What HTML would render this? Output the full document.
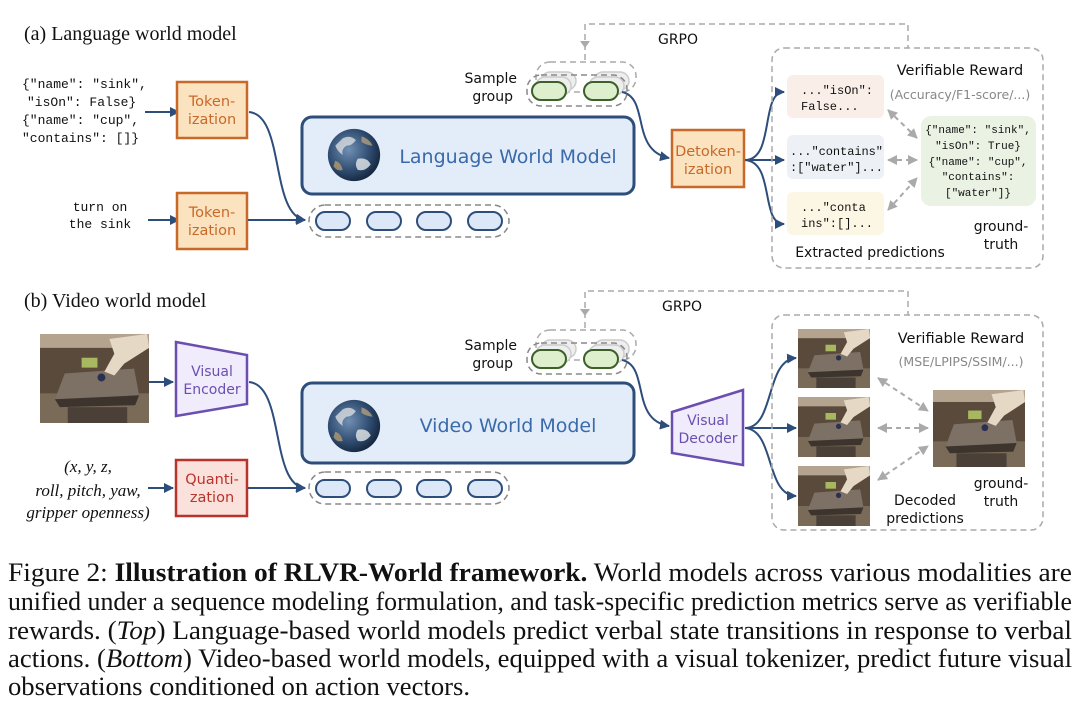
<!DOCTYPE html>
<html><head><meta charset="utf-8"><style>
html,body{margin:0;padding:0;background:#fff}
svg{display:block}
.mono{font-family:"Liberation Mono","DejaVu Sans Mono",monospace}
.sans{font-family:"DejaVu Sans","Liberation Sans",sans-serif}
.serif{font-family:"Liberation Serif",serif}
</style></head><body>
<svg width="1080" height="708" viewBox="0 0 1080 708" xmlns="http://www.w3.org/2000/svg">
<defs>
<marker id="ah" viewBox="0 0 10 10" refX="9" refY="5" markerWidth="5" markerHeight="5" orient="auto"><path d="M0,0 L10,5 L0,10 z" fill="#2d4d7a"/></marker>
<marker id="ag" viewBox="0 0 10 10" refX="9" refY="5" markerWidth="5" markerHeight="5" orient="auto-start-reverse"><path d="M0,0 L10,5 L0,10 z" fill="#aaa"/></marker>
<radialGradient id="earth" cx="0.4" cy="0.4" r="0.7">
<stop offset="0" stop-color="#6f8fb3"/><stop offset="0.6" stop-color="#2d4a6e"/><stop offset="1" stop-color="#0f1c2e"/></radialGradient>
<symbol id="globe" viewBox="-30 -30 60 60">
<circle r="28" fill="url(#earth)"/>
<path d="M-12,-18 q8,-4 14,2 q-4,6 -10,6 q-6,4 -4,10 q-6,-4 -8,-10z" fill="#d9dde0" opacity="0.8"/>
<path d="M4,4 q10,-2 14,6 q-6,8 -14,6 q-4,-6 0,-12z" fill="#e6e8ea" opacity="0.8"/>
<path d="M-20,6 q6,2 8,10 q-6,2 -10,-4z" fill="#b09a70" opacity="0.8"/>
<path d="M8,-20 q8,2 12,10 q-6,0 -12,-4z" fill="#c5a880" opacity="0.7"/>
</symbol>
<symbol id="robot" viewBox="0 0 110 90" preserveAspectRatio="none">
<rect width="110" height="90" fill="#5a4a3c"/>
<rect width="110" height="14" fill="#b4a48f"/>
<rect x="0" y="60" width="110" height="30" fill="#7a6a58"/>
<path d="M25,40 L95,35 L100,62 L15,66z" fill="#7d7166"/>
<path d="M15,66 L100,62 L96,72 L20,74z" fill="#3c342d"/>
<rect x="28" y="74" width="60" height="16" fill="#4a4038"/>
<path d="M70,5 L108,0 L110,14 L85,30 L75,42 L65,38 L75,20z" fill="#e5d8c5"/>
<rect x="42" y="24" width="16" height="10" fill="#a8b860"/>
<circle cx="62" cy="44" r="4" fill="#2a3050"/>
</symbol>
</defs>

<!-- (a) -->
<text x="24" y="40" class="serif" font-size="20" fill="#111">(a) Language world model</text>
<g class="mono" font-size="13" fill="#111">
<text x="22" y="88">{"name": "sink",</text>
<text x="27" y="106">"isOn": False}</text>
<text x="22" y="124">{"name": "cup",</text>
<text x="22" y="142">"contains": []}</text>
<text x="100" y="211" text-anchor="middle">turn on</text>
<text x="100" y="228" text-anchor="middle">the sink</text>
</g>
<line x1="145" y1="112" x2="179" y2="112" stroke="#2d4d7a" stroke-width="2" marker-end="url(#ah)"/>
<line x1="148" y1="220" x2="179" y2="220" stroke="#2d4d7a" stroke-width="2" marker-end="url(#ah)"/>
<g class="sans" font-size="14.5" fill="#c8692a" text-anchor="middle">
<rect x="177" y="82" width="70" height="56" fill="#fbe3c0" stroke="#c8692a" stroke-width="2.5"/>
<text x="212" y="106">Token-</text><text x="212" y="124">ization</text>
<rect x="177" y="193" width="70" height="56" fill="#fbe3c0" stroke="#c8692a" stroke-width="2.5"/>
<text x="212" y="217">Token-</text><text x="212" y="235">ization</text>
</g>
<path d="M249,112 C285,115 270,215 305,220" fill="none" stroke="#2d4d7a" stroke-width="2" marker-end="url(#ah)"/>
<line x1="248" y1="220" x2="305" y2="220" stroke="#2d4d7a" stroke-width="2" marker-end="url(#ah)"/>
<rect x="302" y="117" width="332" height="77" rx="10" fill="#e3edfa" stroke="#2d4d7a" stroke-width="3"/>
<use href="#globe" x="326" y="127" width="56" height="56"/>
<text x="508" y="163" text-anchor="middle" class="sans" font-size="19" fill="#3a6aaa">Language World Model</text>
<rect x="309" y="205" width="200" height="32" rx="16" fill="none" stroke="#888" stroke-width="1.5" stroke-dasharray="6,4"/>
<g fill="#dce8f7" stroke="#2d4d7a" stroke-width="2">
<rect x="316" y="212" width="34" height="18" rx="9"/><rect x="367" y="212" width="34" height="18" rx="9"/>
<rect x="417" y="212" width="34" height="18" rx="9"/><rect x="468" y="212" width="34" height="18" rx="9"/>
</g>
<g class="sans" font-size="14" fill="#111" text-anchor="end">
<text x="517" y="83">Sample</text><text x="513" y="101">group</text>
</g>
<g id="sg">
<rect x="536" y="62" width="100" height="30" rx="14" fill="none" stroke="#aaa" stroke-width="1.5" stroke-dasharray="6,4"/>
<g fill="#eee" stroke="#ccc" stroke-width="1.5">
<rect x="541" y="72" width="35" height="18" rx="9"/><rect x="594" y="72" width="35" height="18" rx="9"/>
<rect x="536" y="77" width="35" height="18" rx="9"/><rect x="589" y="77" width="35" height="18" rx="9"/>
</g>
<rect x="527" y="75" width="100" height="31" rx="14" fill="none" stroke="#888" stroke-width="1.5" stroke-dasharray="6,4"/>
<g fill="#ddefcc" stroke="#3d5f2a" stroke-width="2">
<rect x="532" y="82" width="34" height="18" rx="9"/><rect x="584" y="82" width="34" height="18" rx="9"/>
</g>
</g>
<path d="M585,60 V24 H908 V48" fill="none" stroke="#aaa" stroke-width="1.5" stroke-dasharray="6,4"/>
<path d="M585,48 l-5,-7 h10z" fill="#aaa"/>
<text x="678" y="44" text-anchor="middle" class="sans" font-size="14" fill="#111">GRPO</text>
<path d="M622,92 C650,98 630,150 669,158" fill="none" stroke="#2d4d7a" stroke-width="2" marker-end="url(#ah)"/>
<rect x="672" y="130" width="72" height="57" fill="#fbe3c0" stroke="#c8692a" stroke-width="2.5"/>
<g class="sans" font-size="14.5" fill="#c8692a" text-anchor="middle"><text x="708" y="156">Detoken-</text><text x="708" y="174">ization</text></g>
<path d="M745,160 C775,160 760,92 784,92" fill="none" stroke="#2d4d7a" stroke-width="2" marker-end="url(#ah)"/>
<line x1="745" y1="160" x2="784" y2="160" stroke="#2d4d7a" stroke-width="2" marker-end="url(#ah)"/>
<path d="M745,160 C775,162 760,224 784,224" fill="none" stroke="#2d4d7a" stroke-width="2" marker-end="url(#ah)"/>
<rect x="772" y="48" width="271" height="220" rx="12" fill="none" stroke="#aaa" stroke-width="1.5" stroke-dasharray="6,4"/>
<rect x="787" y="75" width="97" height="43" rx="6" fill="#f9efe8"/>
<rect x="787" y="135" width="97" height="44" rx="6" fill="#edf1f6"/>
<rect x="787" y="192" width="97" height="43" rx="6" fill="#fcf6e4"/>
<rect x="921" y="116" width="115" height="90" rx="10" fill="#eaf2e4"/>
<g class="mono" font-size="12" fill="#111">
<text x="801" y="94">..."isOn":</text><text x="801" y="110">False...</text>
<text x="790" y="155" textLength="93">..."contains"</text><text x="790" y="171" textLength="93">:["water"]...</text>
<text x="801" y="211">..."conta</text><text x="801" y="227">ins":[]...</text>
</g>
<g class="mono" font-size="11" fill="#111" text-anchor="middle"><text x="978" y="133">{"name": "sink",</text><text x="978" y="149">"isOn": True}</text>
<text x="978" y="165">{"name": "cup",</text><text x="978" y="180">"contains":</text><text x="978" y="196">["water"]}</text></g>
<g class="sans" text-anchor="middle">
<text x="960" y="75" font-size="14.5" fill="#111">Verifiable Reward</text>
<text x="960" y="99" font-size="12.5" fill="#888">(Accuracy/F1-score/...)</text>
<text x="1001" y="231" font-size="14" fill="#111">ground-</text><text x="1001" y="249" font-size="14" fill="#111">truth</text>
<text x="870" y="257" font-size="14" fill="#111">Extracted predictions</text>
</g>
<g stroke="#aaa" stroke-width="2" stroke-dasharray="5,4" fill="none">
<line x1="888" y1="110" x2="917" y2="138" marker-start="url(#ag)" marker-end="url(#ag)"/>
<line x1="888" y1="160" x2="917" y2="160" marker-start="url(#ag)" marker-end="url(#ag)"/>
<line x1="888" y1="210" x2="917" y2="178" marker-start="url(#ag)" marker-end="url(#ag)"/>
</g>

<!-- (b) -->
<text x="24" y="307" class="serif" font-size="20" fill="#111">(b) Video world model</text>
<use href="#robot" x="40" y="334" width="109" height="89"/>
<line x1="149" y1="382" x2="173" y2="382" stroke="#2d4d7a" stroke-width="2" marker-end="url(#ah)"/>
<path d="M176,342 L247,355 L247,404 L176,416z" fill="#f0ecfb" stroke="#6a4fb0" stroke-width="2.5"/>
<g class="sans" font-size="14" fill="#6a4fb0" text-anchor="middle"><text x="212" y="376">Visual</text><text x="212" y="394">Encoder</text></g>
<g class="serif" font-size="17" font-style="italic" fill="#111" text-anchor="middle">
<text x="88" y="472">(x, y, z,</text><text x="88" y="496">roll, pitch, yaw,</text><text x="88" y="518">gripper openness)</text>
</g>
<line x1="148" y1="488" x2="173" y2="488" stroke="#2d4d7a" stroke-width="2" marker-end="url(#ah)"/>
<rect x="176" y="460" width="71" height="56" fill="#fbe1dc" stroke="#b8332a" stroke-width="2.5"/>
<g class="sans" font-size="14.5" fill="#b8332a" text-anchor="middle"><text x="212" y="484">Quanti-</text><text x="212" y="502">zation</text></g>
<path d="M249,382 C285,385 270,485 305,488" fill="none" stroke="#2d4d7a" stroke-width="2" marker-end="url(#ah)"/>
<line x1="248" y1="488" x2="305" y2="488" stroke="#2d4d7a" stroke-width="2" marker-end="url(#ah)"/>
<rect x="302" y="383" width="332" height="80" rx="10" fill="#e3edfa" stroke="#2d4d7a" stroke-width="3"/>
<use href="#globe" x="326" y="398" width="56" height="56"/>
<text x="508" y="432" text-anchor="middle" class="sans" font-size="19" fill="#3a6aaa">Video World Model</text>
<rect x="309" y="472" width="200" height="32" rx="16" fill="none" stroke="#888" stroke-width="1.5" stroke-dasharray="6,4"/>
<g fill="#dce8f7" stroke="#2d4d7a" stroke-width="2">
<rect x="316" y="480" width="34" height="17" rx="8.5"/><rect x="367" y="480" width="34" height="17" rx="8.5"/>
<rect x="417" y="480" width="34" height="17" rx="8.5"/><rect x="468" y="480" width="34" height="17" rx="8.5"/>
</g>
<g class="sans" font-size="14" fill="#111" text-anchor="end">
<text x="517" y="350">Sample</text><text x="513" y="368">group</text>
</g>
<use href="#sg" x="0" y="268"/>
<path d="M585,328 V291 H908 V315" fill="none" stroke="#aaa" stroke-width="1.5" stroke-dasharray="6,4"/>
<path d="M585,316 l-5,-7 h10z" fill="#aaa"/>
<text x="682" y="311" text-anchor="middle" class="sans" font-size="14" fill="#111">GRPO</text>
<path d="M622,360 C650,366 630,420 669,426" fill="none" stroke="#2d4d7a" stroke-width="2" marker-end="url(#ah)"/>
<path d="M672,412 L743,390 L743,465 L672,453z" fill="#f0ecfb" stroke="#6a4fb0" stroke-width="2.5"/>
<g class="sans" font-size="14" fill="#6a4fb0" text-anchor="middle"><text x="708" y="425">Visual</text><text x="708" y="443">Decoder</text></g>
<path d="M745,428 C775,428 765,360 796,358" fill="none" stroke="#2d4d7a" stroke-width="2" marker-end="url(#ah)"/>
<line x1="745" y1="428" x2="796" y2="428" stroke="#2d4d7a" stroke-width="2" marker-end="url(#ah)"/>
<path d="M745,428 C775,430 765,495 796,496" fill="none" stroke="#2d4d7a" stroke-width="2" marker-end="url(#ah)"/>
<rect x="772" y="315" width="271" height="215" rx="12" fill="none" stroke="#aaa" stroke-width="1.5" stroke-dasharray="6,4"/>
<use href="#robot" x="798" y="329" width="72" height="59"/>
<use href="#robot" x="798" y="397" width="72" height="60"/>
<use href="#robot" x="798" y="466" width="72" height="60"/>
<use href="#robot" x="933" y="390" width="92" height="77"/>
<g class="sans" text-anchor="middle">
<text x="961" y="343" font-size="14.5" fill="#111">Verifiable Reward</text>
<text x="961" y="366" font-size="12.5" fill="#888">(MSE/LPIPS/SSIM/...)</text>
<text x="1001" y="488" font-size="14" fill="#111">ground-</text><text x="1001" y="506" font-size="14" fill="#111">truth</text>
<text x="925" y="505" font-size="14" fill="#111">Decoded</text><text x="925" y="523" font-size="14" fill="#111">predictions</text>
</g>
<g stroke="#aaa" stroke-width="2" stroke-dasharray="5,4" fill="none">
<line x1="878" y1="378" x2="928" y2="411" marker-start="url(#ag)" marker-end="url(#ag)"/>
<line x1="878" y1="428" x2="928" y2="428" marker-start="url(#ag)" marker-end="url(#ag)"/>
<line x1="878" y1="480" x2="928" y2="446" marker-start="url(#ag)" marker-end="url(#ag)"/>
</g>

<!-- caption -->
<g class="serif" font-size="26" fill="#111">
<text x="8" y="581" textLength="1064" lengthAdjust="spacingAndGlyphs">Figure 2: <tspan font-weight="bold">Illustration of RLVR-World framework.</tspan> World models across various modalities are</text>
<text x="8" y="610" textLength="1064" lengthAdjust="spacingAndGlyphs">unified under a sequence modeling formulation, and task-specific prediction metrics serve as verifiable</text>
<text x="8" y="639" textLength="1064" lengthAdjust="spacingAndGlyphs">rewards. (<tspan font-style="italic">Top</tspan>) Language-based world models predict verbal state transitions in response to verbal</text>
<text x="8" y="667" textLength="1064" lengthAdjust="spacingAndGlyphs">actions. (<tspan font-style="italic">Bottom</tspan>) Video-based world models, equipped with a visual tokenizer, predict future visual</text>
<text x="8" y="695" textLength="462" lengthAdjust="spacingAndGlyphs">observations conditioned on action vectors.</text>
</g>
</svg>
</body></html>
